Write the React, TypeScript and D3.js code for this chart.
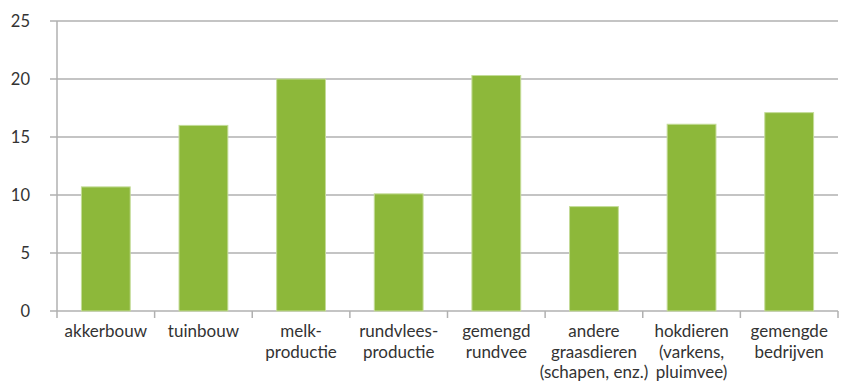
import React from "react";
import * as d3 from "d3";

const categories: string[][] = [
  ["akkerbouw"],
  ["tuinbouw"],
  ["melk-", "productie"],
  ["rundvlees-", "productie"],
  ["gemengd", "rundvee"],
  ["andere", "graasdieren", "(schapen, enz.)"],
  ["hokdieren", "(varkens,", "pluimvee)"],
  ["gemengde", "bedrijven"],
];
const values: number[] = [10.7, 16.0, 20.0, 10.1, 20.3, 9.0, 16.1, 17.1];
const yTicks: number[] = [0, 5, 10, 15, 20, 25];

const W = 841;
const H = 386;
const M = { left: 57, right: 3, top: 21, bottom: 75 };

export default function App() {
  const keys = categories.map((c) => c.join(" "));
  const x = d3
    .scaleBand<string>()
    .domain(keys)
    .range([M.left, W - M.right])
    .paddingInner(0.5)
    .paddingOuter(0.25);
  const y = d3.scaleLinear().domain([0, 25]).range([H - M.bottom, M.top]);
  const step = x.step();
  const font = "Lato, 'Open Sans', sans-serif";
  const grid = "#b0b0b0";
  return (
    <svg
      width={W}
      height={H}
      style={{ position: "absolute", left: 0, top: 0, background: "#fff" }}
      fontFamily={font}
    >
      {yTicks.map((t) => (
        <g key={t}>
          <line x1={M.left - 7} x2={W - M.right} y1={y(t)} y2={y(t)} stroke={grid} strokeWidth={1.5} />
          <text x={30} y={y(t)} dy="0.35em" textAnchor="end" fontSize={16.5} fill="#333">
            {t}
          </text>
        </g>
      ))}
      <line x1={M.left} x2={M.left} y1={M.top} y2={y(0)} stroke={grid} strokeWidth={1.5} />
      {keys.map((k, i) => (
        <line
          key={"t" + i}
          x1={M.left + i * step}
          x2={M.left + i * step}
          y1={y(0)}
          y2={y(0) + 7}
          stroke={grid}
          strokeWidth={1.5}
        />
      ))}
      <line x1={W - M.right} x2={W - M.right} y1={y(0)} y2={y(0) + 7} stroke={grid} strokeWidth={1.5} />
      {keys.map((k, i) => (
        <rect
          key={k}
          x={x(k)}
          y={y(values[i])}
          width={x.bandwidth()}
          height={y(0) - y(values[i])}
          fill="#8db83a"
          stroke="#c4dc98"
          strokeWidth={1}
        />
      ))}
      {categories.map((lines, i) =>
        lines.map((ln, j) => (
          <text
            key={"l" + i + "-" + j}
            x={(x(keys[i]) as number) + x.bandwidth() / 2}
            y={337 + j * 20.5}
            textAnchor="middle"
            fontSize={17}
            fill="#333"
          >
            {ln}
          </text>
        ))
      )}
    </svg>
  );
}
